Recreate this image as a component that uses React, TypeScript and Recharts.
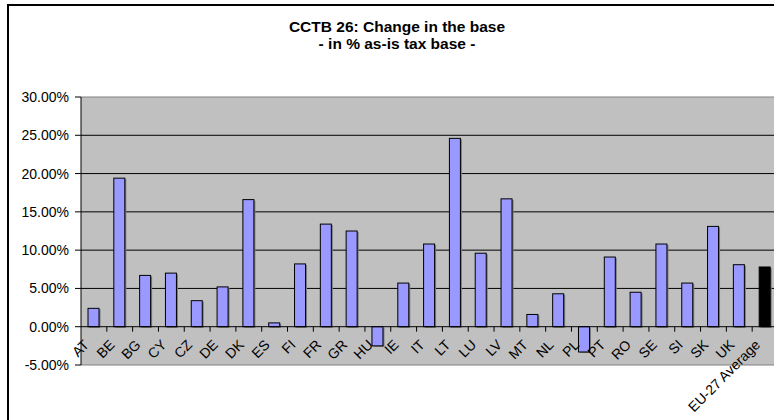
import React from 'react';
import { BarChart, Bar, XAxis, YAxis, CartesianGrid, ReferenceLine, Cell } from 'recharts';

const categories = ['AT','BE','BG','CY','CZ','DE','DK','ES','FI','FR','GR','HU','IE','IT','LT','LU','LV','MT','NL','PL','PT','RO','SE','SI','SK','UK','EU-27 Average'];
const changeInBase = [2.4, 19.4, 6.7, 7.0, 3.4, 5.2, 16.6, 0.5, 8.2, 13.4, 12.5, -2.5, 5.7, 10.8, 24.6, 9.6, 16.7, 1.6, 4.3, -3.3, 9.1, 4.5, 10.8, 5.7, 13.1, 8.1, 7.8];
const yTicks = [-5, 0, 5, 10, 15, 20, 25, 30];
const gridValues = [5, 10, 15, 20, 25];
const titleLine1 = 'CCTB 26: Change in the base';
const titleLine2 = '- in % as-is tax base -';

const data = categories.map((c, i) => ({ name: c, value: changeInBase[i] }));

const W = 790;
const H = 420;
const MARGIN = { top: 97, right: 12, bottom: 54, left: 0 };
const YW = 81;
const plotH = H - MARGIN.top - MARGIN.bottom - 1;
const plotW = W - MARGIN.left - MARGIN.right - YW;
const zeroY = MARGIN.top + plotH * (30 / 35);
const band = plotW / categories.length;
const FONT = '"Liberation Sans", Arial, sans-serif';

const XTick = (props: any) => {
  const { x, payload } = props;
  const ax = x - 4;
  const ay = zeroY + 19;
  return (
    <g>
      <line x1={x + band / 2} x2={x + band / 2} y1={zeroY} y2={zeroY + 5} stroke="#000" strokeWidth={1} />
      <text
        x={ax}
        y={ay}
        textAnchor="end"
        fontSize={14}
        fontFamily={FONT}
        fill="#000"
        transform={`rotate(-45 ${ax} ${ay})`}
      >
        {payload.value}
      </text>
    </g>
  );
};

const BarShape = (props: any) => {
  const { x, y, width, height, fill } = props;
  const top = Math.min(y, y + height);
  const h = Math.abs(height);
  return (
    <g>
      <rect x={x + 1.5} y={top + 1} width={width} height={h} fill="#7a7a7a" />
      <rect x={x} y={top} width={width} height={h} fill={fill} stroke="#000" strokeWidth={1} />
    </g>
  );
};

export default function App() {
  return (
    <div style={{ position: 'fixed', left: 0, top: 0, width: 774, height: 420, overflow: 'hidden', background: '#fff' }}>
      <div style={{ position: 'absolute', left: 7, top: 4, width: 820, height: 460, border: '2px solid #000', boxSizing: 'border-box' }} />
      <div style={{ position: 'absolute', left: 0, top: 0 }}>
        <BarChart width={W} height={H} data={data} margin={MARGIN} barSize={11}>
          <CartesianGrid fill="#C0C0C0" stroke="#000" vertical={false} horizontalValues={gridValues} />
          <ReferenceLine y={30} stroke="#808080" />
          <ReferenceLine y={-5} stroke="#808080" />
          <XAxis dataKey="name" interval={0} axisLine={false} tickLine={false} height={1} tick={<XTick />} />
          <YAxis
            width={YW}
            domain={[-5, 30]}
            ticks={yTicks}
            interval={0}
            tickFormatter={(v: number) => v.toFixed(2) + '%'}
            axisLine={{ stroke: '#000' }}
            tickLine={{ stroke: '#000' }}
            tickSize={6}
            tickMargin={6}
            tick={{ fontSize: 14, fontFamily: FONT, fill: '#000' }}
          />
          <ReferenceLine y={0} stroke="#000" />
          <Bar dataKey="value" isAnimationActive={false} shape={<BarShape />}>
            {data.map((d, i) => (
              <Cell key={d.name} fill={i === data.length - 1 ? '#000' : '#9999FF'} />
            ))}
          </Bar>
        </BarChart>
      </div>
      <svg width={774} height={420} style={{ position: 'absolute', left: 0, top: 0, pointerEvents: 'none' }}>
        <text x={397} y={32} textAnchor="middle" fontSize={15.5} fontWeight="bold" fontFamily={FONT} fill="#000">{titleLine1}</text>
        <text x={397} y={49} textAnchor="middle" fontSize={15.5} fontWeight="bold" fontFamily={FONT} fill="#000">{titleLine2}</text>
      </svg>
    </div>
  );
}
